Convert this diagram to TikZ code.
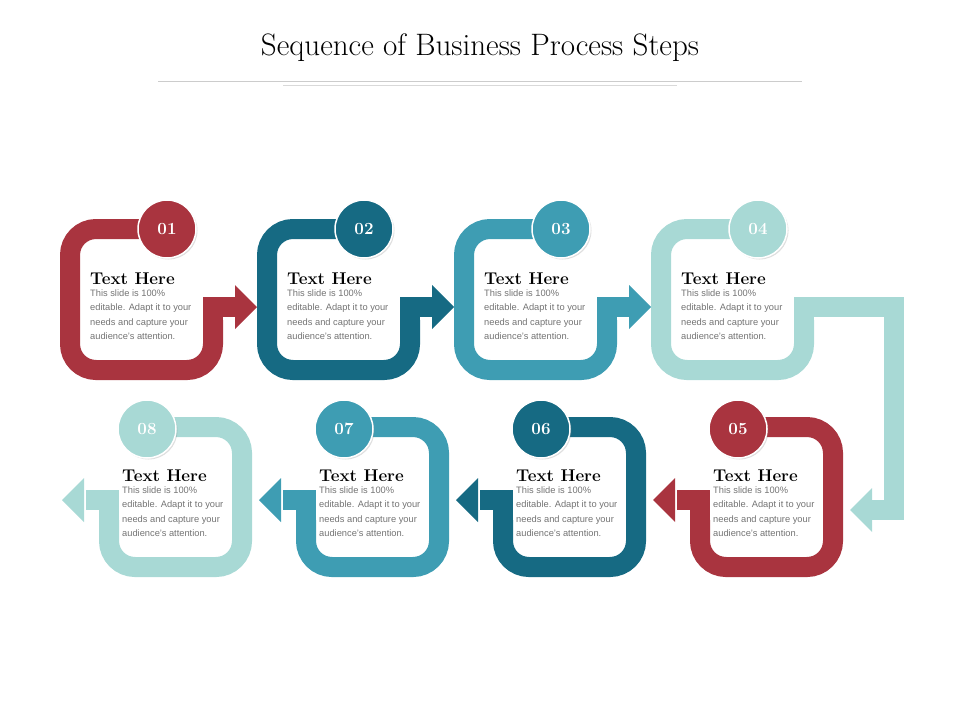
\documentclass[tikz,border=0pt]{standalone}
\usepackage{fontspec}
\setsansfont{Liberation Sans}
\usetikzlibrary{positioning,shadows}

\definecolor{stepred}{HTML}{A9343F}
\definecolor{stepdark}{HTML}{166A83}
\definecolor{stepmid}{HTML}{3E9DB3}
\definecolor{steplight}{HTML}{A8D9D5}

\tikzset{
  band/.style={line width=20pt, rounded corners=26pt},
  arm/.style={line width=20pt, line join=miter},
  badge/.style={circle, minimum size=58pt, draw=white, line width=1.5pt, text=white,
    font=\fontsize{17}{20}\selectfont\bfseries,
    drop shadow={opacity=0.25, shadow xshift=1.5pt, shadow yshift=-1.5pt}},
  head/.style={inner sep=0pt, anchor=base west, font=\fontsize{17}{20}\selectfont\bfseries},
  body/.style={inner sep=0pt, align=left, text=black!55, font=\fontsize{9.3}{14.4}\selectfont\sffamily}
}

\begin{document}
\begin{tikzpicture}[x=1pt,y=-1pt]
\useasboundingbox (0,0) rectangle (960,720);

% title %
\node[font=\fontsize{31}{36}\selectfont] (title) at (480,48) {Sequence of Business Process Steps};
\draw[black!20, line width=1pt] (158,81) -- (802,81);
\draw[black!15, line width=1pt] (283,85) -- (677,85);

% top row %
\foreach \i/\c/\n in {0/stepred/01,1/stepdark/02,2/stepmid/03,3/steplight/04}{
  \pgfmathsetmacro\dx{197*\i}
  \draw[band,\c] (167+\dx,229) -- (70+\dx,229) -- (70+\dx,370) -- (213+\dx,370) -- (213+\dx,320);
  \node[badge, fill=\c] (c\n) at (167+\dx,229) {\n};
  \node[head] (h\n) at (90+\dx,284) {Text Here};
  \node[body, below=5pt of h\n.south west, anchor=north west] (b\n)
    {This slide is 100\%\\editable. Adapt it to your\\needs and capture your\\audience’s attention.};
}

% arrows 01-03 %
\foreach \i/\c in {0/stepred,1/stepdark,2/stepmid}{
  \pgfmathsetmacro\dx{197*\i}
  \draw[arm,\c] (213+\dx,330) -- (213+\dx,307) -- (237+\dx,307);
  \fill[\c] (235+\dx,285) -- (257+\dx,307) -- (235+\dx,329) -- cycle;
}

% arrow 04 to 05 %
\draw[arm,steplight] (804,330) -- (804,307) -- (894,307) -- (894,510) -- (870,510);
\fill[steplight] (872,488) -- (850,510) -- (872,532) -- cycle;

% bottom row %
\foreach \i/\c/\n in {0/stepred/05,1/stepdark/06,2/stepmid/07,3/steplight/08}{
  \pgfmathsetmacro\dx{-197*\i}
  \draw[band,\c] (738+\dx,427) -- (833+\dx,427) -- (833+\dx,567) -- (700+\dx,567) -- (700+\dx,520);
  \draw[arm,\c] (700+\dx,530) -- (700+\dx,500) -- (677+\dx,500);
  \fill[\c] (675+\dx,478) -- (653+\dx,500) -- (675+\dx,522) -- cycle;
  \node[badge, fill=\c] (c\n) at (738+\dx,429) {\n};
  \node[head] (h\n) at (713+\dx,481) {Text Here};
  \node[body, below=5pt of h\n.south west, anchor=north west] (b\n)
    {This slide is 100\%\\editable. Adapt it to your\\needs and capture your\\audience’s attention.};
}

\end{tikzpicture}
\end{document}
